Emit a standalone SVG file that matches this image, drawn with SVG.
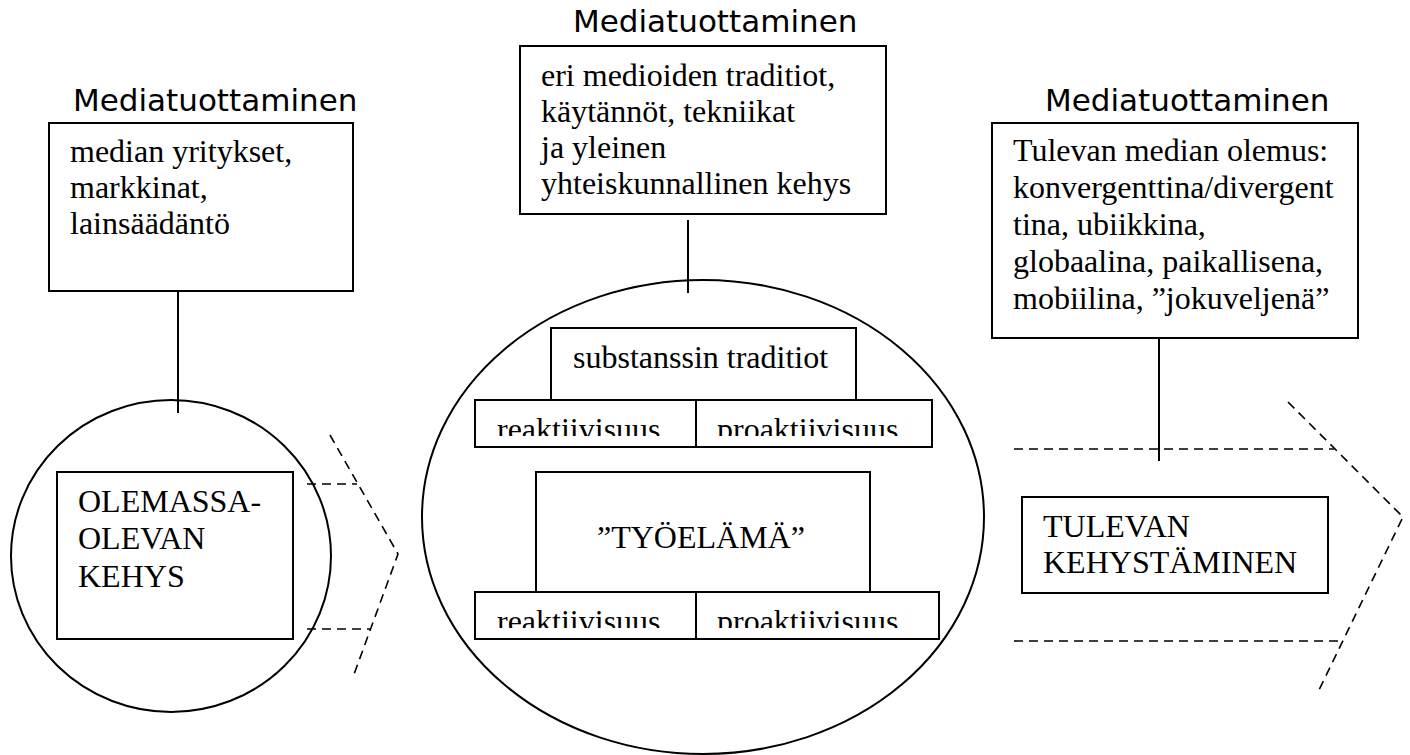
<svg xmlns="http://www.w3.org/2000/svg" width="1410" height="755" viewBox="0 0 1410 755">
<style>
.box{fill:#fff;stroke:#000;stroke-width:2}
.ell{fill:none;stroke:#000;stroke-width:2}
.conn{stroke:#000;stroke-width:2;fill:none}
.dash{stroke:#000;stroke-width:1.6;fill:none;stroke-dasharray:9 6}
.head{font-family:"DejaVu Sans",Verdana,sans-serif;font-size:31px;fill:#000}
.t{font-family:"Liberation Serif","Times New Roman",serif;font-size:32px;fill:#000}
</style>
<defs>
<clipPath id="clipR1"><rect x="470" y="398" width="470" height="38"/></clipPath>
<clipPath id="clipR2"><rect x="470" y="590" width="475" height="38"/></clipPath>
</defs>
<rect width="1410" height="755" fill="#fff"/>

<g id="connectors">
<line class="conn" x1="178" y1="291" x2="178" y2="413"/>
<line class="conn" x1="688" y1="220" x2="688" y2="293"/>
<line class="conn" x1="1159" y1="338" x2="1159" y2="461"/>
</g>

<g id="left-ellipse"><ellipse class="ell" cx="171" cy="556" rx="160" ry="156"/></g>
<g id="middle-ellipse"><ellipse class="ell" cx="703" cy="517" rx="281" ry="237"/></g>

<g id="heading-left"><text class="head" x="73" y="111">Mediatuottaminen</text></g>
<g id="heading-middle"><text class="head" x="573" y="32">Mediatuottaminen</text></g>
<g id="heading-right"><text class="head" x="1045" y="111">Mediatuottaminen</text></g>

<g id="box-left">
<rect class="box" x="49" y="123" width="304" height="168"/>
<text class="t" x="70" y="162">median yritykset,</text>
<text class="t" x="70" y="198">markkinat,</text>
<text class="t" x="70" y="234">lainsäädäntö</text>
</g>

<g id="box-middle">
<rect class="box" x="520" y="46" width="366" height="168"/>
<text class="t" x="541" y="86">eri medioiden traditiot,</text>
<text class="t" x="541" y="122">käytännöt, tekniikat</text>
<text class="t" x="541" y="158">ja yleinen</text>
<text class="t" x="541" y="194">yhteiskunnallinen kehys</text>
</g>

<g id="box-right">
<rect class="box" x="992" y="123" width="366" height="215"/>
<text class="t" x="1013" y="161">Tulevan median olemus:</text>
<text class="t" x="1013" y="198">konvergenttina/divergent</text>
<text class="t" x="1013" y="235">tina, ubiikkina,</text>
<text class="t" x="1013" y="272">globaalina, paikallisena,</text>
<text class="t" x="1013" y="309">mobiilina, ”jokuveljenä”</text>
</g>

<g id="olemassa">
<rect class="box" x="57" y="472" width="236" height="167"/>
<text class="t" x="78" y="512">OLEMASSA-</text>
<text class="t" x="78" y="549">OLEVAN</text>
<text class="t" x="78" y="587">KEHYS</text>
</g>

<g id="substanssi">
<rect class="box" x="551" y="328" width="305" height="72"/>
<text class="t" x="573" y="368">substanssin traditiot</text>
</g>

<g id="row1">
<rect class="box" x="475" y="400" width="221" height="47"/>
<rect class="box" x="696" y="400" width="236" height="47"/>
<g clip-path="url(#clipR1)">
<text class="t" x="497" y="440">reaktiivisuus</text>
<text class="t" x="717" y="440">proaktiivisuus</text>
</g>
</g>

<g id="tyoelama">
<rect class="box" x="536" y="472" width="334" height="120"/>
<text class="t" x="597" y="548">”TYÖELÄMÄ”</text>
</g>

<g id="row2">
<rect class="box" x="475" y="592" width="221" height="47"/>
<rect class="box" x="696" y="592" width="243" height="47"/>
<g clip-path="url(#clipR2)">
<text class="t" x="497" y="632">reaktiivisuus</text>
<text class="t" x="717" y="632">proaktiivisuus</text>
</g>
</g>

<g id="tulevan">
<rect class="box" x="1022" y="497" width="306" height="96"/>
<text class="t" x="1043" y="537">TULEVAN</text>
<text class="t" x="1043" y="573">KEHYSTÄMINEN</text>
</g>

<g id="arrow-left">
<polyline class="dash" points="330,435 398,554 353,677"/>
<line class="dash" x1="307" y1="484" x2="357" y2="484"/>
<line class="dash" x1="307" y1="629" x2="371" y2="629"/>
</g>

<g id="arrow-right">
<polyline class="dash" points="1288,402 1403,517 1319,690"/>
<line class="dash" x1="1014" y1="449" x2="1334" y2="449"/>
<line class="dash" x1="1014" y1="641" x2="1342" y2="641"/>
</g>
</svg>
